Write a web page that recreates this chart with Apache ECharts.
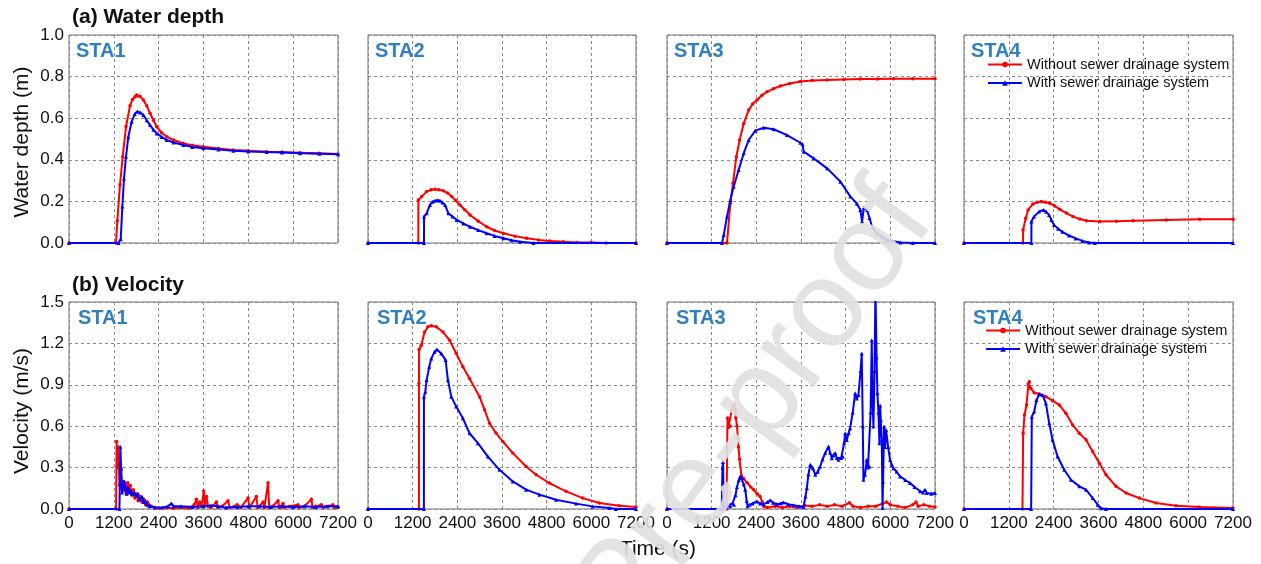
<!DOCTYPE html>
<html><head><meta charset="utf-8">
<script src="https://cdn.jsdelivr.net/npm/echarts@6/dist/echarts.min.js"></script>
<style>html,body{margin:0;padding:0;background:#fff}#c{width:1261px;height:564px}</style>
</head><body><div id="c"></div><script>
// ---------- data ----------
const stations = ['STA1', 'STA2', 'STA3', 'STA4'];
const seriesNames = ['Without sewer drainage system', 'With sewer drainage system'];
const timeTicks = [0, 1200, 2400, 3600, 4800, 6000, 7200];
const depthTicks = [0, 0.2, 0.4, 0.6, 0.8, 1.0];
const velocityTicks = [0, 0.3, 0.6, 0.9, 1.2, 1.5];

// (a) water depth [time s, depth m]
const sta1DepthWithout = [[0,0],[1258,0],[1293,0.107],[1365,0.28],[1437,0.415],[1526,0.56],[1633,0.66],[1700,0.69],[1767,0.703],[1812,0.712],[1900,0.705],[1990,0.688],[2080,0.66],[2168,0.624],[2260,0.59],[2347,0.559],[2480,0.53],[2615,0.511],[2800,0.495],[3060,0.479],[3300,0.47],[3595,0.463],[4000,0.454],[4398,0.447],[4800,0.443],[5290,0.439],[5700,0.437],[6183,0.434],[6700,0.431],[7200,0.428]];
const sta1DepthWith = [[0,0],[1320,0],[1384,0.018],[1428,0.175],[1472,0.31],[1526,0.415],[1588,0.511],[1677,0.583],[1760,0.62],[1830,0.632],[1900,0.628],[1990,0.615],[2080,0.59],[2168,0.567],[2260,0.545],[2347,0.527],[2480,0.51],[2615,0.495],[2800,0.483],[3060,0.471],[3300,0.462],[3595,0.455],[4000,0.449],[4398,0.444],[4800,0.44],[5290,0.438],[5700,0.435],[6183,0.431],[6700,0.429],[7200,0.427]];
const sta2DepthWithout = [[0,0],[1352,0],[1353,0.207],[1442,0.223],[1576,0.247],[1700,0.256],[1800,0.258],[1900,0.256],[2024,0.251],[2140,0.24],[2248,0.223],[2360,0.204],[2472,0.183],[2600,0.16],[2741,0.135],[2960,0.105],[3189,0.078],[3400,0.06],[3637,0.047],[3950,0.033],[4264,0.023],[4580,0.015],[4891,0.01],[5250,0.006],[5608,0.003],[6000,0.002],[6400,0],[7200,0]];
const sta2DepthWith = [[0,0],[1505,0],[1506,0.127],[1576,0.143],[1666,0.183],[1730,0.198],[1800,0.203],[1870,0.205],[1935,0.203],[2000,0.195],[2069,0.183],[2159,0.143],[2270,0.127],[2383,0.111],[2560,0.094],[2741,0.078],[2960,0.062],[3189,0.047],[3400,0.034],[3637,0.023],[3860,0.013],[4085,0.006],[4443,0],[7200,0]];
const sta3DepthWithout = [[0,0],[1612,0],[1702,0.191],[1773,0.287],[1863,0.415],[1952,0.495],[2060,0.575],[2194,0.639],[2300,0.668],[2418,0.688],[2550,0.71],[2687,0.727],[2860,0.742],[3045,0.755],[3300,0.767],[3583,0.776],[3900,0.781],[4300,0.784],[4750,0.786],[5195,0.788],[5650,0.789],[6090,0.79],[6600,0.79],[7200,0.79]];
const sta3DepthWith = [[0,0],[1478,0],[1523,0.038],[1612,0.127],[1702,0.207],[1791,0.271],[1925,0.351],[2060,0.431],[2194,0.495],[2373,0.54],[2597,0.554],[2866,0.547],[3224,0.519],[3583,0.482],[3640,0.475],[3673,0.439],[3941,0.407],[4300,0.359],[4658,0.295],[4927,0.223],[5100,0.19],[5195,0.159],[5240,0.103],[5290,0.17],[5374,0.159],[5440,0.12],[5509,0.078],[5643,0.047],[5780,0.028],[5912,0.014],[6270,0.002],[6600,0],[7200,0]];
const sta4DepthWithout = [[0,0],[1580,0],[1581,0.0625],[1652,0.119],[1714,0.159],[1848,0.188],[1960,0.196],[2071,0.199],[2180,0.196],[2294,0.191],[2430,0.178],[2562,0.162],[2740,0.144],[2919,0.127],[3100,0.115],[3276,0.107],[3633,0.103],[4080,0.105],[4525,0.107],[5417,0.111],[6310,0.114],[7200,0.114]];
const sta4DepthWith = [[0,0],[1803,0],[1804,0.103],[1875,0.127],[2008,0.151],[2124,0.159],[2200,0.15],[2276,0.135],[2340,0.11],[2410,0.087],[2520,0.068],[2633,0.054],[2810,0.036],[2990,0.022],[3170,0.01],[3347,0.002],[3500,0],[7200,0]];

// (b) velocity [time s, velocity m/s]
const sta1VelWithout = [[0,0],[1260,0],[1275,0.49],[1290,0.30],[1320,0.45],[1350,0.17],[1390,0.28],[1420,0.15],[1450,0.20],[1480,0.13],[1510,0.17],[1540,0.11],[1570,0.19],[1600,0.12],[1640,0.17],[1680,0.10],[1720,0.14],[1760,0.08],[1800,0.11],[1850,0.06],[1900,0.09],[1950,0.05],[2000,0.07],[2050,0.03],[2100,0.05],[2200,0.02],[2300,0.01],[2400,0.005],[2600,0.01],[2800,0.005],[3000,0.01],[3200,0.005],[3350,0.03],[3410,0.07],[3450,0.01],[3500,0.05],[3550,0.02],[3606,0.13],[3640,0.03],[3680,0.09],[3720,0.02],[3800,0.01],[3945,0.05],[3980,0.01],[4100,0.02],[4257,0.06],[4300,0.01],[4500,0.03],[4600,0.01],[4792,0.08],[4830,0.01],[5015,0.09],[5050,0.01],[5194,0.05],[5230,0.01],[5327,0.19],[5360,0.01],[5450,0.02],[5595,0.06],[5630,0.01],[5729,0.04],[5760,0.01],[5900,0.02],[6130,0.03],[6160,0.01],[6300,0.02],[6487,0.07],[6520,0.01],[6600,0.02],[6755,0.03],[6800,0.01],[6950,0.02],[7060,0.03],[7100,0.01],[7200,0.01]];
const sta1VelWith = [[0,0],[1350,0],[1375,0.45],[1395,0.30],[1420,0.12],[1450,0.17],[1480,0.20],[1510,0.15],[1540,0.11],[1580,0.16],[1620,0.12],[1660,0.13],[1700,0.11],[1750,0.12],[1800,0.10],[1850,0.11],[1900,0.07],[1950,0.09],[2000,0.05],[2050,0.06],[2100,0.03],[2150,0.02],[2300,0.01],[2500,0.01],[2650,0.02],[2740,0.04],[2800,0.02],[3000,0.02],[3300,0.015],[3600,0.02],[3800,0.025],[4000,0.02],[4200,0.01],[4500,0.015],[4800,0.02],[5100,0.02],[5400,0.015],[5700,0.02],[6000,0.015],[6300,0.02],[6600,0.015],[6900,0.02],[7200,0.02]];
const sta2VelWithout = [[0,0],[1368,0],[1369,0.91],[1372,1.156],[1431,1.187],[1520,1.283],[1610,1.32],[1700,1.327],[1834,1.32],[2013,1.283],[2192,1.223],[2370,1.127],[2549,1.03],[2728,0.946],[2996,0.814],[3130,0.72],[3264,0.621],[3440,0.55],[3622,0.489],[3890,0.405],[4248,0.308],[4516,0.248],[4873,0.188],[5321,0.128],[5768,0.079],[6215,0.043],[6752,0.024],[7200,0.014]];
const sta2VelWith = [[0,0],[1502,0],[1503,0.814],[1540,0.85],[1574,0.934],[1646,1.03],[1700,1.09],[1789,1.139],[1852,1.156],[1968,1.127],[2085,1.079],[2147,0.934],[2237,0.814],[2370,0.742],[2549,0.657],[2728,0.549],[2952,0.477],[3220,0.38],[3533,0.284],[3890,0.20],[4248,0.14],[4606,0.104],[5053,0.067],[5589,0.039],[6036,0.019],[6483,0.007],[6662,0],[7200,0]];
const sta3VelWithout = [[0,0],[1600,0],[1625,0.66],[1650,0.59],[1700,0.60],[1740,0.72],[1770,0.74],[1800,0.755],[1830,0.72],[1850,0.66],[1880,0.60],[1920,0.45],[1950,0.36],[2000,0.24],[2060,0.22],[2150,0.19],[2250,0.16],[2330,0.14],[2420,0.11],[2500,0.09],[2560,0.05],[2600,0.02],[2700,0.01],[2900,0.02],[3100,0.01],[3300,0.02],[3500,0.01],[3700,0.025],[3900,0.02],[4100,0.03],[4300,0.02],[4500,0.03],[4700,0.02],[4900,0.045],[5000,0.02],[5200,0.01],[5400,0.02],[5600,0.02],[5800,0.04],[5900,0.05],[6000,0.03],[6200,0.02],[6400,0.01],[6600,0.03],[6690,0.05],[6750,0.02],[6900,0.03],[7050,0.02],[7200,0.015]];
const sta3VelWith = [[0,0],[1470,0],[1490,0.30],[1505,0.34],[1520,0.05],[1540,0.02],[1600,0.01],[1650,0.03],[1700,0.02],[1760,0.04],[1800,0.03],[1840,0.10],[1880,0.16],[1930,0.21],[1968,0.236],[2013,0.224],[2060,0.18],[2102,0.14],[2140,0.06],[2165,0.02],[2220,0.03],[2300,0.04],[2415,0.055],[2500,0.04],[2600,0.035],[2700,0.05],[2773,0.063],[2850,0.045],[2950,0.035],[3050,0.04],[3130,0.048],[3250,0.035],[3400,0.028],[3550,0.02],[3667,0.014],[3720,0.09],[3757,0.152],[3800,0.25],[3847,0.32],[3880,0.31],[3918,0.296],[3981,0.248],[4050,0.27],[4115,0.308],[4180,0.36],[4249,0.405],[4338,0.453],[4380,0.41],[4428,0.368],[4470,0.39],[4517,0.405],[4560,0.37],[4606,0.356],[4680,0.37],[4723,0.38],[4760,0.48],[4785,0.549],[4830,0.50],[4880,0.55],[4920,0.585],[4990,0.70],[5054,0.838],[5100,0.80],[5143,0.826],[5200,1.0],[5232,1.127],[5260,0.6],[5277,0.212],[5320,0.25],[5367,0.356],[5400,0.30],[5438,0.308],[5470,0.7],[5501,1.223],[5520,0.8],[5546,0.597],[5575,1.0],[5600,1.6],[5615,1.6],[5630,1.1],[5653,0.838],[5680,0.70],[5707,0.477],[5725,0.75],[5743,0.645],[5770,0.50],[5790,0.007],[5805,0.20],[5832,0.597],[5860,0.45],[5886,0.573],[5940,0.45],[5993,0.356],[6040,0.32],[6082,0.296],[6170,0.27],[6261,0.236],[6400,0.21],[6530,0.188],[6650,0.16],[6798,0.128],[6880,0.12],[6932,0.14],[6977,0.116],[7100,0.11],[7200,0.116]];
const sta4VelWithout = [[0,0],[1565,0],[1583,0.549],[1619,0.681],[1673,0.754],[1726,0.91],[1750,0.922],[1789,0.874],[1879,0.843],[2013,0.833],[2192,0.814],[2370,0.785],[2549,0.754],[2728,0.693],[2907,0.609],[3086,0.549],[3265,0.501],[3444,0.417],[3623,0.332],[3801,0.248],[4069,0.164],[4338,0.116],[4695,0.079],[5142,0.043],[5679,0.024],[6305,0.014],[7200,0.007]];
const sta4VelWith = [[0,0],[1797,0],[1815,0.669],[1879,0.706],[1941,0.79],[2013,0.831],[2102,0.826],[2192,0.766],[2281,0.621],[2370,0.501],[2504,0.38],[2683,0.284],[2862,0.212],[3086,0.164],[3265,0.14],[3444,0.079],[3578,0.031],[3667,0.005],[3800,0],[7200,0]];

const depthWithout = [sta1DepthWithout, sta2DepthWithout, sta3DepthWithout, sta4DepthWithout];
const depthWith = [sta1DepthWith, sta2DepthWith, sta3DepthWith, sta4DepthWith];
const velWithout = [sta1VelWithout, sta2VelWithout, sta3VelWithout, sta4VelWithout];
const velWith = [sta1VelWith, sta2VelWith, sta3VelWith, sta4VelWith];

// ---------- layout ----------
const FONT = 'Liberation Sans, Arial, sans-serif';
const colLeft = [69, 368, 667, 964];
const colWidth = [269, 268, 268, 269];
const rowTop = [35, 302];
const rowHeight = [208, 207];
const RED = '#ff0000', BLUE = '#0000ff';

const grids = [], xAxes = [], yAxes = [], series = [], graphics = [];
for (let r = 0; r < 2; r++) {
  for (let c = 0; c < 4; c++) {
    const idx = r * 4 + c;
    grids.push({left: colLeft[c], top: rowTop[r], width: colWidth[c], height: rowHeight[r],
      show: true, borderColor: '#707070', borderWidth: 1, backgroundColor: 'transparent'});
    const ticks = r === 0 ? depthTicks : velocityTicks;
    xAxes.push({type: 'value', gridIndex: idx, min: timeTicks[0], max: timeTicks[timeTicks.length - 1],
      interval: timeTicks[1] - timeTicks[0],
      axisLine: {show: false}, axisTick: {show: false},
      axisLabel: {show: r === 1, fontSize: 17, color: '#111', fontFamily: FONT, margin: 6,
        showMinLabel: true, showMaxLabel: true, formatter: v => String(v)},
      splitLine: {show: true, lineStyle: {color: '#8a8a8a', type: [3, 3], width: 1}}});
    yAxes.push({type: 'value', gridIndex: idx, min: ticks[0], max: ticks[ticks.length - 1],
      interval: ticks[1] - ticks[0],
      axisLine: {show: false}, axisTick: {show: false},
      axisLabel: {show: c === 0, fontSize: 17, color: '#111', fontFamily: FONT, margin: 5,
        formatter: v => v.toFixed(1)},
      splitLine: {show: true, lineStyle: {color: '#8a8a8a', type: [3, 3], width: 1}}});
    const dW = r === 0 ? depthWithout[c] : velWithout[c];
    const dS = r === 0 ? depthWith[c] : velWith[c];
    series.push({type: 'line', name: seriesNames[0], xAxisIndex: idx, yAxisIndex: idx, data: dW,
      symbol: 'circle', symbolSize: 3.5, showAllSymbol: true, clip: true,
      lineStyle: {color: RED, width: 2}, itemStyle: {color: RED}, z: 2});
    series.push({type: 'line', name: seriesNames[1], xAxisIndex: idx, yAxisIndex: idx, data: dS,
      symbol: 'triangle', symbolSize: 4, showAllSymbol: true, clip: true,
      lineStyle: {color: BLUE, width: 2}, itemStyle: {color: BLUE}, z: 3});
    graphics.push({type: 'text', x: colLeft[c] + 7 + (r ? 2 : 0), y: rowTop[r] + 16, z: 10,
      style: {text: stations[c], fontSize: 20, fontWeight: 'bold', fontFamily: FONT, fill: '#2f7fc1',
        align: 'left', verticalAlign: 'middle', textAlign: 'left', textVerticalAlign: 'middle'}});
  }
}
// panel titles
graphics.push({type: 'text', x: 72, y: 17, style: {text: '(a) Water depth', fontSize: 21, fontWeight: 'bold', fontFamily: FONT, fill: '#111', align: 'left', verticalAlign: 'middle', textAlign: 'left', textVerticalAlign: 'middle'}});
graphics.push({type: 'text', x: 72, y: 285, style: {text: '(b) Velocity', fontSize: 21, fontWeight: 'bold', fontFamily: FONT, fill: '#111', align: 'left', verticalAlign: 'middle', textAlign: 'left', textVerticalAlign: 'middle'}});
// axis names
graphics.push({type: 'text', x: 22, y: 142, rotation: Math.PI / 2, style: {text: 'Water depth (m)', fontSize: 21, fontFamily: FONT, fill: '#111', align: 'center', verticalAlign: 'middle', textAlign: 'center', textVerticalAlign: 'middle'}});
graphics.push({type: 'text', x: 22, y: 411, rotation: Math.PI / 2, style: {text: 'Velocity (m/s)', fontSize: 21, fontFamily: FONT, fill: '#111', align: 'center', verticalAlign: 'middle', textAlign: 'center', textVerticalAlign: 'middle'}});
graphics.push({type: 'text', x: 658, y: 549, style: {text: 'Time (s)', fontSize: 21, fontFamily: FONT, fill: '#111', align: 'center', verticalAlign: 'middle', textAlign: 'center', textVerticalAlign: 'middle'}});
// watermark
graphics.push({type: 'text', x: 624, y: 590, rotation: 54 * Math.PI / 180, z: 100,
  style: {text: 'Journal Pre-proof', fontSize: 125, fontFamily: FONT, fill: 'rgba(224,224,224,0.9)',
    align: 'center', verticalAlign: 'middle', textAlign: 'center', textVerticalAlign: 'middle'}});

const legendBase = {orient: 'vertical', data: seriesNames, itemWidth: 34, itemHeight: 7, itemGap: 3.5,
  padding: 0, selectedMode: false, textStyle: {fontSize: 14.5, color: '#111', fontFamily: FONT, lineHeight: 15}};

const chart = echarts.init(document.getElementById('c'), null, {renderer: 'canvas'});
chart.setOption({
  animation: false,
  backgroundColor: '#ffffff',
  grid: grids, xAxis: xAxes, yAxis: yAxes, series: series,
  legend: [Object.assign({left: 987, top: 57}, legendBase), Object.assign({left: 985, top: 323}, legendBase)],
  graphic: graphics
});
</script></body></html>
